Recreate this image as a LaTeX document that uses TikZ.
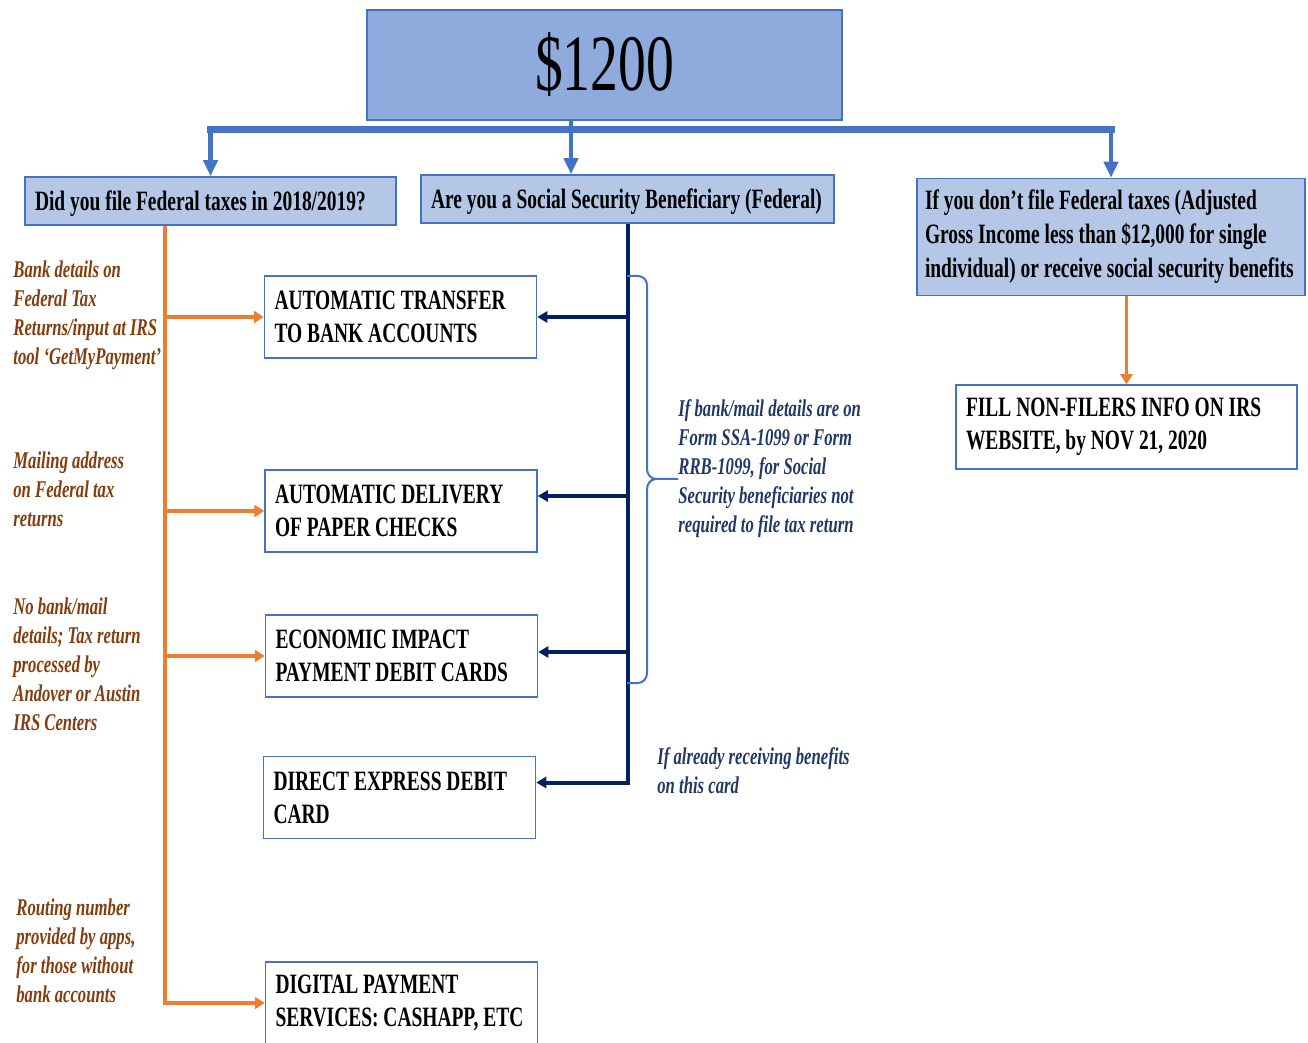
\documentclass[tikz,border=0pt]{standalone}
\usepackage{fontspec}
\setmainfont{Liberation Serif}[FakeStretch=0.695]
\usepackage{xcolor}
\usetikzlibrary{arrows.meta, positioning}

\definecolor{topfill}{HTML}{8FAADC}
\definecolor{askfill}{HTML}{B4C7E7}
\definecolor{edgeblue}{HTML}{4472C4}
\definecolor{orangeline}{HTML}{ED7D31}
\definecolor{navyline}{HTML}{002060}
\definecolor{brownnote}{HTML}{843C0C}
\definecolor{navynote}{HTML}{1F3864}

\begin{document}
\begin{tikzpicture}[x=0.5pt, y=-0.5pt,
            box/.style={draw=edgeblue, line width=0.75pt, rectangle, fill=white, inner xsep=5pt, inner ysep=0pt, align=flush left, text width=126pt, minimum height=41pt, font=\bfseries\fontsize{14}{16.5}\selectfont},
            ask/.style={box, fill=askfill, minimum height=24pt},
            bus/.style={draw=edgeblue, line width=2.2pt},
            busarrow/.style={bus, -{Triangle[width=7pt, length=8pt]}},
            orangearrow/.style={draw=orangeline, line width=1.6pt, -{Triangle[width=6pt, length=5pt]}},
            navyarrow/.style={draw=navyline, line width=2pt, -{Triangle[width=5.5pt, length=5pt]}},
            note/.style={anchor=north west, inner sep=0pt, align=left, font=\bfseries\itshape\fontsize{12}{14.5}\selectfont}]

            \useasboundingbox (0,0) rectangle (1308,1043);

            % top and the three questions
            \node[box, fill=topfill, text width=227.5pt, minimum height=55pt, align=center, font=\fontsize{40}{48}\selectfont] (top) at (604.5,65) {\$1200};
            \node[ask, text width=175.5pt, text depth=0pt] (filed) at (210.5,201) {Did you file Federal taxes in 2018/2019?};
            \node[ask, text width=196.5pt, text depth=0pt] (ssb) at (627.5,199) {Are you a Social Security Beneficiary (Federal)};
            \node[ask, inner xsep=4pt, text width=186pt, minimum height=58.5pt, font=\bfseries\fontsize{14}{17}\selectfont] (nonfiler) at (1111,237) {If you don’t file Federal taxes (Adjusted\\Gross Income less than \$12,000 for single\\individual) or receive social security benefits};

            % payment routes
            \node[box] (transfer) at (400.5,317) {AUTOMATIC TRANSFER\\TO BANK ACCOUNTS};
            \node[box] (checks) at (401,511) {AUTOMATIC DELIVERY\\OF PAPER CHECKS};
            \node[box] (eipcard) at (401.5,656) {ECONOMIC IMPACT\\PAYMENT DEBIT CARDS};
            \node[box] (express) at (399.5,797.5) {DIRECT EXPRESS DEBIT\\CARD};
            \node[box] (digital) at (401.5,1003) {DIGITAL PAYMENT\\SERVICES: CASHAPP, ETC};
            \node[box, text width=160.5pt, minimum height=42pt] (irsform) at (1126.5,427) {FILL NON-FILERS INFO ON IRS\\WEBSITE, by NOV 21, 2020};

            % notes
            \node[note, text=brownnote] (banknote) at (13,260) {Bank details on\\Federal Tax\\Returns/input at IRS\\tool ‘GetMyPayment’};
            \node[note, text=brownnote] (mailnote) at (13,451) {Mailing address\\on Federal tax\\returns};
            \node[note, text=brownnote] (cardnote) at (13,597) {No bank/mail\\details; Tax return\\processed by\\Andover or Austin\\IRS Centers};
            \node[note, text=brownnote] (appnote) at (16,898) {Routing number\\provided by apps,\\for those without\\bank accounts};
            \node[note, text=navynote] (formnote) at (678,399) {If bank/mail details are on\\Form SSA-1099 or Form\\RRB-1099, for Social\\Security beneficiaries not\\required to file tax return};
            \node[note, text=navynote] (expressnote) at (657,747) {If already receiving benefits\\on this card};

            % blue bus
            \coordinate (split) at (571,130);
            \draw[bus, line width=3.5pt, line cap=rect] (filed.north |- split) -- (nonfiler.north |- split);
            \draw[bus] (top.south -| split) -- (split);
            \draw[busarrow] (filed.north |- split) -- (filed.north);
            \draw[busarrow] (split) -- (split |- ssb.north);
            \draw[busarrow] (nonfiler.north |- split) -- (nonfiler.north);

            % orange spine
            \coordinate (spine) at (165,0);
            \draw[orangearrow] (filed.south -| spine) |- (digital.west);
            \draw[orangearrow] (spine |- transfer.west) -- (transfer.west);
            \draw[orangearrow] (spine |- checks.west) -- (checks.west);
            \draw[orangearrow] (spine |- eipcard.west) -- (eipcard.west);
            \draw[orangearrow] (nonfiler.south -| irsform.north) -- (irsform.north);

            % navy spine
            \coordinate (checksin) at ([yshift=7.5pt]checks.east);
            \coordinate (eipin) at ([yshift=2pt]eipcard.east);
            \draw[navyarrow] (ssb.south) |- ([yshift=7.5pt]express.east);
            \draw[navyarrow] (ssb.south |- transfer.east) -- (transfer.east);
            \draw[navyarrow] (ssb.south |- checksin) -- (checksin);
            \draw[navyarrow] (ssb.south |- eipin) -- (eipin);

            % brace
            \draw[edgeblue, line width=1pt] (627,276) -- (638,276) to[out=0, in=90] (647,285) -- (647,469) to[out=-90, in=180] (656,479) -- (formnote.west |- 0,479)
                (656,479) to[out=180, in=90] (647,489) -- (647,673) to[out=-90, in=0] (638,683) -- (627,683);
        \end{tikzpicture}
\end{document}
